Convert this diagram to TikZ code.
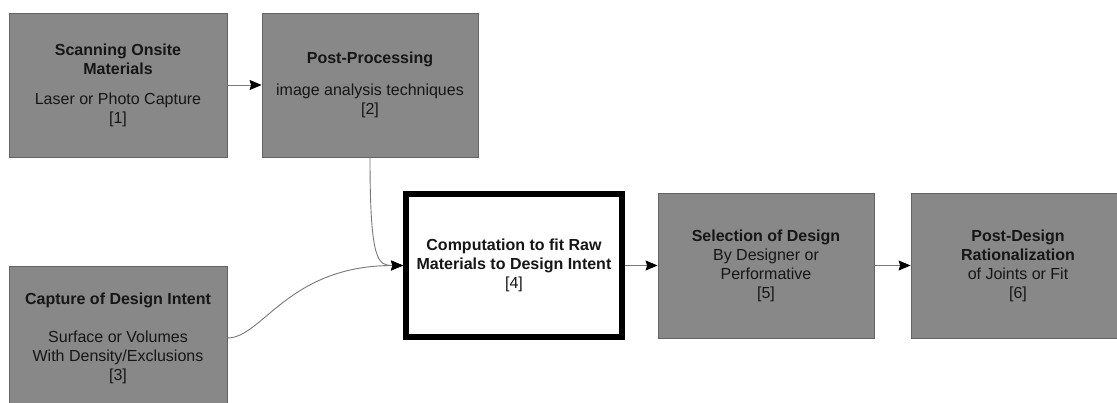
\documentclass[tikz,border=0pt]{standalone}
\usepackage{fontspec}
\setmainfont{Liberation Sans}
\usetikzlibrary{arrows.meta}
\definecolor{boxgray}{RGB}{136,136,136}
\definecolor{edgegray}{RGB}{100,100,100}
\definecolor{inkdark}{RGB}{22,22,22}
\definecolor{wiregray}{RGB}{120,120,120}
\tikzset{
  stage/.style={rectangle, fill=boxgray, draw=edgegray, line width=0.8pt,
    inner sep=0pt, align=center, text=inkdark,
    font=\fontsize{16}{19}\selectfont},
  corestage/.style={rectangle, fill=white, draw=black, line width=6pt,
    inner sep=0pt, align=center, text=inkdark,
    font=\fontsize{16}{19}\selectfont},
  flow/.style={draw=wiregray, line width=0.9pt,
    -{Stealth[length=12pt,width=10pt,inset=1.5pt,color=black]}}
}
\begin{document}
\begin{tikzpicture}[x=1pt,y=-1pt]
\useasboundingbox (0,0) rectangle (1117,403);
\clip (0,0) rectangle (1117,403);
\fill[white] (0,0) rectangle (1117,403);

% input stages
\node[stage, minimum width=218pt, minimum height=144pt] (scan) at (118,85)
  {\textbf{Scanning Onsite}\\\textbf{Materials}\\[11pt]Laser or Photo Capture\\{[1]}};
\node[stage, minimum width=216pt, minimum height=144pt] (post) at (370,85)
  {\textbf{Post-Processing}\\[13pt]image analysis techniques\\{[2]}};
\node[stage, minimum width=218pt, minimum height=144pt] (intent) at (118,338)
  {\textbf{Capture of Design Intent}\\[19pt]Surface or Volumes\\With Density/Exclusions\\{[3]}};

% central computation
\node[corestage, minimum width=216pt, minimum height=143pt] (fit) at (514,265.5)
  {\textbf{Computation to fit Raw}\\\textbf{Materials to Design Intent}\\{[4]}};

% downstream stages
\node[stage, minimum width=216pt, minimum height=145pt] (select) at (766,265.5)
  {\textbf{Selection of Design}\\By Designer or\\Performative\\{[5]}};
\node[stage, minimum width=214pt, minimum height=145pt] (ration) at (1018,265.5)
  {\textbf{Post-Design}\\\textbf{Rationalization}\\of Joints or Fit\\{[6]}};

% connectors
\draw[flow] (scan.east) -- (post.west);
\draw[flow] (post.south) .. controls +(0,105) and +(-25,0) .. (fit.west);
\draw[flow] (intent.east) .. controls +(35,0) and +(-115,0) .. (fit.west);
\draw[flow] (fit.east) -- (select.west);
\draw[flow] (select.east) -- (ration.west);
\end{tikzpicture}
\end{document}
